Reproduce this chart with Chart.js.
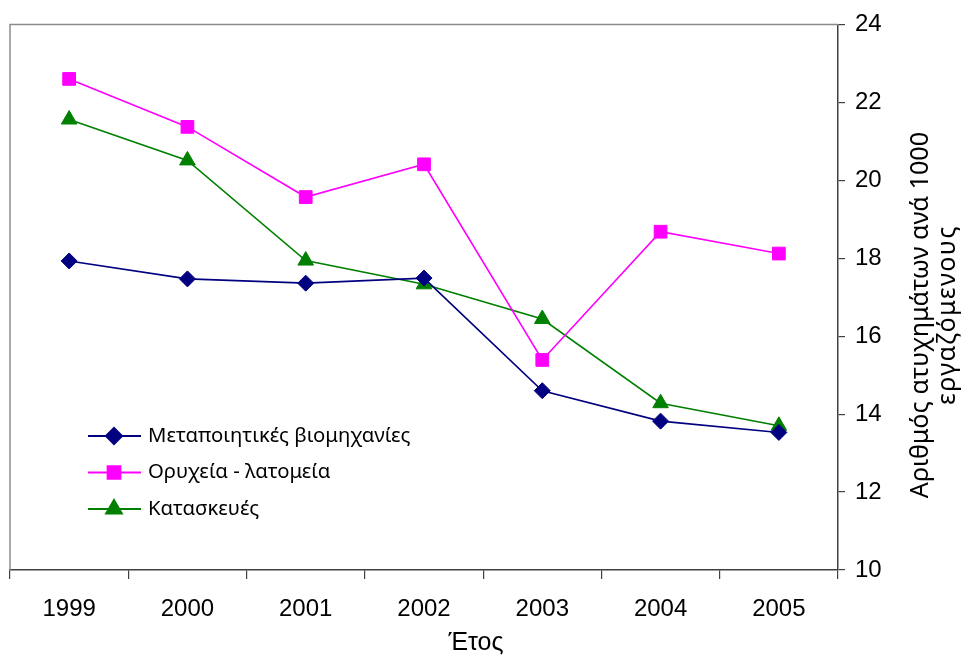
<!DOCTYPE html>
<html>
<head>
<meta charset="utf-8">
<script src="https://cdn.jsdelivr.net/npm/chart.js@4.4.1/dist/chart.umd.min.js"></script>
<style>
  html, body { margin: 0; padding: 0; background: #fff; }
  #wrap { width: 972px; height: 659px; }
</style>
</head>
<body>
<div id="wrap"><canvas id="chart"></canvas></div>
<script>
// data
const years = ['1999', '2000', '2001', '2002', '2003', '2004', '2005'];
const manufacturing = [17.93, 17.47, 17.36, 17.49, 14.60, 13.82, 13.53];
const mining = [22.60, 21.37, 19.57, 20.41, 15.39, 18.68, 18.12];
const construction = [21.56, 20.51, 17.94, 17.33, 16.44, 14.28, 13.70];
const seriesNames = ['Μεταποιητικές βιομηχανίες', 'Ορυχεία - λατομεία', 'Κατασκευές'];
const yTicks = [10, 12, 14, 16, 18, 20, 22, 24];
const xTitle = 'Έτος';
const yTitle = ['Αριθμός ατυχημάτων ανά 1000', 'εργαζόμενους'];

const FONT = '"Liberation Sans", Arial, sans-serif';
const FONT2 = '"Noto Sans", "Open Sans", sans-serif';

// font size so a text gets a given width
function fitSize(ctx, text, family, width) {
  ctx.font = '20px ' + family;
  return 20 * width / ctx.measureText(text).width;
}

// frame, axis titles and the legend inside the plot
const extras = {
  id: 'extras',
  beforeDatasetsDraw(chart) {
    const { ctx, chartArea: a } = chart;
    ctx.save();
    ctx.strokeStyle = '#8c8c8c';
    ctx.lineWidth = 1.5;
    ctx.beginPath();
    ctx.moveTo(a.left, a.bottom);
    ctx.lineTo(a.left, a.top);
    ctx.lineTo(a.right, a.top);
    ctx.stroke();
    ctx.restore();
  },
  afterDraw(chart) {
    const { ctx } = chart;
    ctx.save();
    ctx.fillStyle = '#000';
    ctx.font = '25px ' + FONT;
    ctx.textAlign = 'center';
    ctx.textBaseline = 'middle';
    ctx.fillText(xTitle, 476, 643);

    const ts = fitSize(ctx, yTitle[0], FONT2, 366);
    ctx.font = ts.toFixed(1) + 'px ' + FONT2;
    const w2 = ctx.measureText(yTitle[1]).width;
    ctx.translate(921, 315);
    ctx.rotate(-Math.PI / 2);
    ctx.fillText(yTitle[0], 0, 0);
    ctx.letterSpacing = ((180 - w2) / yTitle[1].length).toFixed(1) + 'px';
    ctx.fillText(yTitle[1], 0, 27);
    ctx.restore();

    // legend
    ctx.save();
    const ls = fitSize(ctx, seriesNames[0], FONT2, 262);
    ctx.font = ls.toFixed(1) + 'px ' + FONT2;
    ctx.textAlign = 'left';
    ctx.textBaseline = 'middle';
    chart.data.datasets.forEach((ds, i) => {
      const y = 436 + i * 36.5;
      ctx.strokeStyle = ds.borderColor;
      ctx.lineWidth = 2;
      ctx.beginPath();
      ctx.moveTo(88, y);
      ctx.lineTo(141, y);
      ctx.stroke();
      const opts = {
        pointStyle: ds.pointStyle, radius: ds.pointRadius,
        rotation: 0, borderWidth: 1
      };
      ctx.fillStyle = ds.pointBackgroundColor;
      ctx.strokeStyle = ds.pointBorderColor;
      if (Chart.helpers && Chart.helpers.drawPoint) {
        Chart.helpers.drawPoint(ctx, opts, 114, y);
      }
      ctx.fillStyle = '#000';
      ctx.fillText(ds.label, 148, y);
    });
    ctx.restore();
  }
};

function series(label, data, color, style, radius, width) {
  return {
    label: label,
    data: data,
    borderColor: color,
    backgroundColor: color,
    borderWidth: width,
    pointStyle: style,
    pointRadius: radius,
    pointHoverRadius: radius,
    pointBackgroundColor: color,
    pointBorderColor: color,
    pointBorderWidth: 1,
    tension: 0
  };
}

new Chart(document.getElementById('chart'), {
  type: 'line',
  data: {
    labels: years,
    datasets: [
      series(seriesNames[0], manufacturing, '#000080', 'rectRot', 8, 1.6),
      series(seriesNames[1], mining, '#ff00ff', 'rect', 9, 1.6),
      series(seriesNames[2], construction, '#008000', 'triangle', 9, 1.6)
    ]
  },
  options: {
    responsive: true,
    maintainAspectRatio: false,
    animation: false,
    devicePixelRatio: 1,
    layout: { padding: { top: 22, left: 10, right: 0, bottom: 0 } },
    plugins: { legend: { display: false }, tooltip: { enabled: false } },
    scales: {
      x: {
        offset: true,
        grid: { offset: true, drawOnChartArea: false, tickLength: 9, color: '#404040', lineWidth: 1.2 },
        border: { color: '#404040', width: 1.5 },
        ticks: { color: '#000', font: { family: FONT, size: 24 }, padding: 16, maxRotation: 0 },
        afterFit(s) { s.height = 89; }
      },
      y: {
        position: 'right',
        min: 10,
        max: 24,
        afterBuildTicks(s) { s.ticks = yTicks.map(v => ({ value: v })); },
        grid: { drawOnChartArea: false, tickLength: 7, color: '#404040', lineWidth: 1.2 },
        border: { color: '#404040', width: 1.5 },
        ticks: { color: '#000', font: { family: FONT, size: 24 }, padding: 10 },
        afterFit(s) { s.width = 134; }
      }
    }
  },
  plugins: [extras]
});
</script>
</body>
</html>
